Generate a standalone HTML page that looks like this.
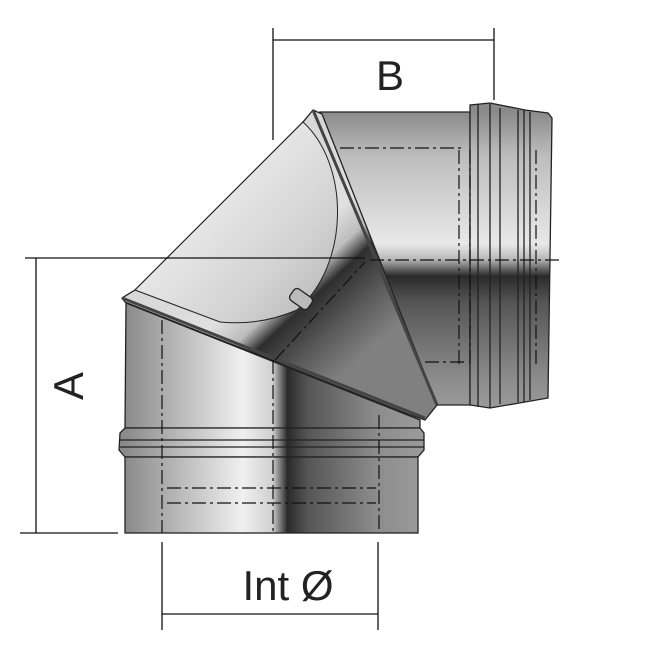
<!DOCTYPE html>
<html><head><style>html,body{margin:0;padding:0;background:#fff}svg{display:block}</style></head>
<body>
<svg width="650" height="649" viewBox="0 0 650 649" xmlns="http://www.w3.org/2000/svg">
<defs>
<linearGradient id="gv" x1="125" y1="0" x2="420" y2="0" gradientUnits="userSpaceOnUse">
<stop offset="0" stop-color="#8a8a8a"/><stop offset="0.12" stop-color="#a9a9a9"/>
<stop offset="0.4" stop-color="#f0f0f0"/><stop offset="0.5" stop-color="#d0d0d0"/>
<stop offset="0.55" stop-color="#2a2a2a"/><stop offset="0.62" stop-color="#555"/>
<stop offset="0.85" stop-color="#8c8c8c"/><stop offset="1" stop-color="#9a9a9a"/>
</linearGradient>
<linearGradient id="gh" x1="0" y1="112" x2="0" y2="405" gradientUnits="userSpaceOnUse">
<stop offset="0" stop-color="#8a8a8a"/><stop offset="0.15" stop-color="#bdbdbd"/>
<stop offset="0.45" stop-color="#e8e8e8"/><stop offset="0.5" stop-color="#bbb"/>
<stop offset="0.56" stop-color="#2a2a2a"/><stop offset="0.65" stop-color="#555"/>
<stop offset="0.9" stop-color="#8a8a8a"/><stop offset="1" stop-color="#999"/>
</linearGradient>
<linearGradient id="gm" x1="250" y1="200" x2="380" y2="340" gradientUnits="userSpaceOnUse">
<stop offset="0" stop-color="#d8d8d8"/><stop offset="0.35" stop-color="#e0e0e0"/>
<stop offset="0.5" stop-color="#bdbdbd"/><stop offset="0.6" stop-color="#2e2e2e"/>
<stop offset="0.8" stop-color="#5a5a5a"/><stop offset="1" stop-color="#808080"/>
</linearGradient>
<linearGradient id="gd" x1="150" y1="150" x2="330" y2="320" gradientUnits="userSpaceOnUse">
<stop offset="0" stop-color="#a8a8a8"/><stop offset="0.35" stop-color="#e6e6e6"/>
<stop offset="0.7" stop-color="#d2d2d2"/><stop offset="1" stop-color="#b5b5b5"/>
</linearGradient>
</defs>
<g stroke="#222" stroke-width="1.3">
<polygon points="320,112 470,112 470,405 437,405" fill="url(#gh)"/>
<polygon points="470,105 490,103 525,110 548,113 552,118 548,398 525,402 490,408 470,405" fill="url(#gh)"/>
<line x1="478" y1="104" x2="478" y2="407"/><line x1="490" y1="104" x2="490" y2="408"/>
<line x1="500" y1="108" x2="500" y2="404"/><line x1="518" y1="110" x2="518" y2="402"/>
<line x1="524" y1="110" x2="524" y2="402"/><line x1="530" y1="112" x2="530" y2="400"/>
<polygon points="313,110 322,114 437,405 425,420 408,414 125,302 122,298 135,290 303,122" fill="url(#gm)"/>
<path d="M303,122 C350,165 350,265 297,310 Q260,326 220,322 L135,290 Z" fill="url(#gd)" stroke-width="1"/>
<polygon points="126,303 420,420 420,428 125,428" fill="url(#gv)"/>
<polygon points="120,433 125,428 420,428 424,433 424,450 418,457 125,457 119,450" fill="url(#gv)"/>
<rect x="125" y="457" width="293" height="76" fill="url(#gv)"/>
<line x1="120" y1="440" x2="424" y2="440"/><line x1="120" y1="447" x2="424" y2="447"/>
<line x1="313" y1="110" x2="437" y2="405" stroke-width="3" stroke="#444"/>
<line x1="122" y1="298" x2="425" y2="418" stroke-width="3" stroke="#444"/>
<rect x="290" y="292" width="22" height="14" rx="4" transform="rotate(35 301 299)" fill="#bbb"/>
</g>
<g stroke="#111" stroke-width="1.2" fill="none" stroke-dasharray="14,4,3,4">
<line x1="162" y1="320" x2="162" y2="533"/><line x1="273" y1="360" x2="273" y2="533"/><line x1="379" y1="415" x2="379" y2="533"/>
<line x1="167" y1="488" x2="376" y2="488"/><line x1="167" y1="503" x2="376" y2="503"/>
<line x1="340" y1="148" x2="465" y2="148"/><line x1="370" y1="260" x2="560" y2="260"/><line x1="425" y1="362" x2="465" y2="362"/>
<line x1="459" y1="150" x2="459" y2="365"/><line x1="470" y1="150" x2="470" y2="365"/><line x1="536" y1="150" x2="536" y2="365"/>
<line x1="275" y1="360" x2="365" y2="262"/>
</g>
<g stroke="#111" stroke-width="1.3">
<line x1="273" y1="28" x2="273" y2="140"/><line x1="494" y1="28" x2="494" y2="100"/><line x1="273" y1="40" x2="494" y2="40"/>
<line x1="25" y1="258" x2="365" y2="258"/><line x1="36" y1="258" x2="36" y2="533"/><line x1="20" y1="533" x2="118" y2="533"/>
<line x1="162" y1="542" x2="162" y2="630"/><line x1="378" y1="542" x2="378" y2="630"/><line x1="162" y1="614" x2="378" y2="614"/>
</g>
<g font-family="Liberation Sans, sans-serif" font-size="42" fill="#222">
<text x="390" y="90" text-anchor="middle">B</text>
<text x="288" y="600" text-anchor="middle">Int Ø</text>
<text transform="translate(83,386) rotate(-90)" text-anchor="middle">A</text>
</g>
</svg>
</body></html>
